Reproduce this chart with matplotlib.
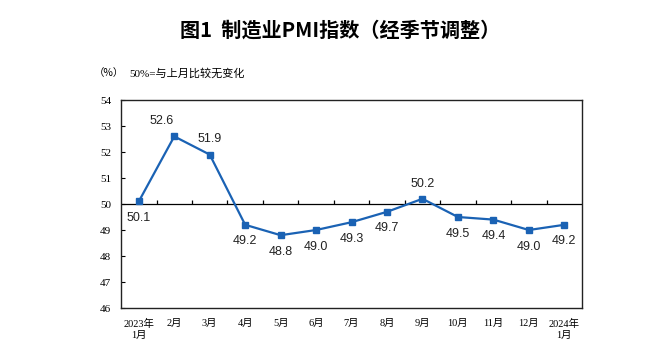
import matplotlib
matplotlib.use('Agg')
import matplotlib.pyplot as plt
import numpy as np

plt.rcParams['font.family'] = ['Liberation Serif', 'Noto Sans CJK SC', 'DejaVu Sans']

# 数据
months = ['2023年\n1月', '2月', '3月', '4月', '5月', '6月', '7月', '8月',
          '9月', '10月', '11月', '12月', '2024年\n1月']
pmi = [50.1, 52.6, 51.9, 49.2, 48.8, 49.0, 49.3, 49.7, 50.2, 49.5, 49.4, 49.0, 49.2]
yticks = [46, 47, 48, 49, 50, 51, 52, 53, 54]

# 标签位置 (上/下, 点)
lab_dy = [-12, 11, 11, -12, -12, -12, -12, -12, 11, -12, -12, -12, -12]
lab_dx = [0, -9, 0, 0, 0, 0, 0, 0, 0, 0, 0, 0, 0]

fig = plt.figure(figsize=(6.69, 3.63), dpi=100)
ax = fig.add_axes([0.181, 0.1515, 0.689, 0.573])

x = np.arange(len(pmi))
blue = '#1a62b4'
ax.plot(x, pmi, color=blue, lw=1.6, marker='s', ms=4.5, zorder=3)

# 50 基准线及刻度
ax.axhline(50, color='black', lw=0.9, zorder=2)
ax.vlines(np.arange(0.5, len(pmi) - 0.5), 50, 50.17, color='black', lw=0.9, zorder=2)

for i, v in enumerate(pmi):
    ax.annotate(f'{v:.1f}', (x[i], v), xytext=(lab_dx[i], lab_dy[i]),
                textcoords='offset points', ha='center', va='center',
                fontsize=9, family='Liberation Sans', color='#222222')

ax.set_xlim(-0.5, len(pmi) - 0.5)
ax.set_ylim(46, 54)
ax.set_yticks(yticks)
ax.set_xticks(x)
ax.set_xticklabels(months, fontsize=7.5, linespacing=1.25)
ax.tick_params(axis='x', length=0, pad=8)
ax.tick_params(axis='y', direction='in', length=3, width=0.8, labelsize=8, pad=7)
for s in ax.spines.values():
    s.set_linewidth(1.0)
    s.set_color('#222222')

fig.text(0.508, 0.917, '图1  制造业PMI指数（经季节调整）', ha='center', va='center',
         fontsize=14.5, fontweight='bold', family=['Noto Sans CJK SC'])
fig.text(0.140, 0.798, '（%）', ha='left', va='center', fontsize=7.5,
         family=['Noto Sans CJK SC'])
fig.text(0.194, 0.798, '50%=与上月比较无变化', ha='left', va='center', fontsize=8,
         family=['Liberation Serif', 'Noto Sans CJK SC'])

fig.savefig('out.png', dpi=100)
